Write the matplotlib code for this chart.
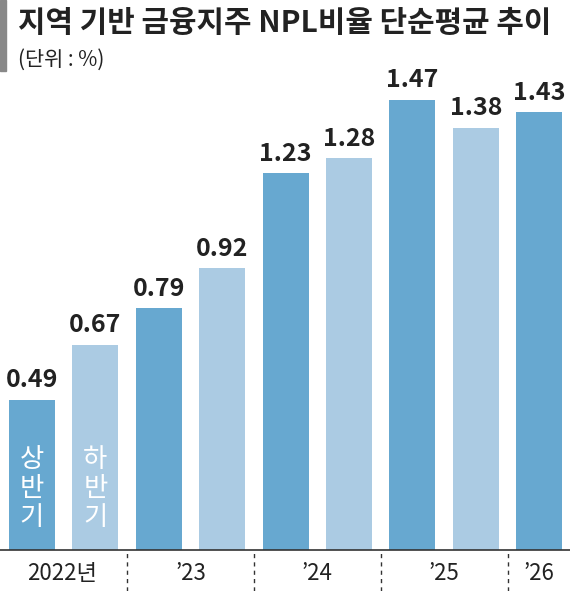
import matplotlib
matplotlib.use("Agg")
import matplotlib.pyplot as plt
from matplotlib.patches import Rectangle

plt.rcParams['font.family'] = ['Noto Sans CJK KR', 'DejaVu Sans']

values = [0.49, 0.67, 0.79, 0.92, 1.23, 1.28, 1.47, 1.38, 1.43]
labels = ['0.49', '0.67', '0.79', '0.92', '1.23', '1.28', '1.47', '1.38', '1.43']
year_labels = ['2022년', "’23", "’24", "’25", "’26"]
year_pos = [0.47, 2.5, 4.5, 6.5, 8.0]
dark, light = '#67a8d0', '#abcbe3'

X0, DX = 32, 63.4
fig = plt.figure(figsize=(5.70, 5.91), dpi=100)
ax = fig.add_axes([0, 41/591, 1, 480/591])
xs = list(range(len(values)))
colors = [dark if i % 2 == 0 else light for i in xs]
ax.bar(xs, values, width=46/DX, color=colors)
ax.set_xlim(-X0/DX, (570 - X0)/DX)
ax.set_ylim(0, 1.568)
ax.axis('off')
for x, v, t in zip(xs, values, labels):
    ax.text(x, v + 0.025, t, ha='center', va='bottom', fontsize=18, fontweight='bold', color='#222222')
for x, t in [(0, '상\n반\n기'), (1, '하\n반\n기')]:
    ax.text(x, 0.2, t, ha='center', va='center', fontsize=19, color='white', linespacing=1.1)

fig.add_artist(plt.Line2D([0, 1], [41/591, 41/591], color='#333333', lw=1.2))
for p in [1.5, 3.5, 5.5, 7.5]:
    xf = (X0 + DX * p) / 570
    fig.add_artist(plt.Line2D([xf, xf], [0, 41/591], color='#333333', lw=1, ls=(0, (3, 3))))
for p, t in zip(year_pos, year_labels):
    xf = (X0 + DX * p) / 570
    fig.text(xf, 18/591, t, ha='center', va='center', fontsize=16, color='#222222')

fig.add_artist(Rectangle((0, 520/591), 6/570, 71/591, color='#888888', transform=fig.transFigure))
fig.text(18/570, 1 - 23/591, '지역 기반 금융지주 NPL비율 단순평균 추이', fontsize=21.5, fontweight='bold', va='center', ha='left', color='#222222')
fig.text(18/570, 1 - 60/591, '(단위 : %)', fontsize=15, va='center', ha='left', color='#222222')

fig.savefig('out.png', dpi=100)
